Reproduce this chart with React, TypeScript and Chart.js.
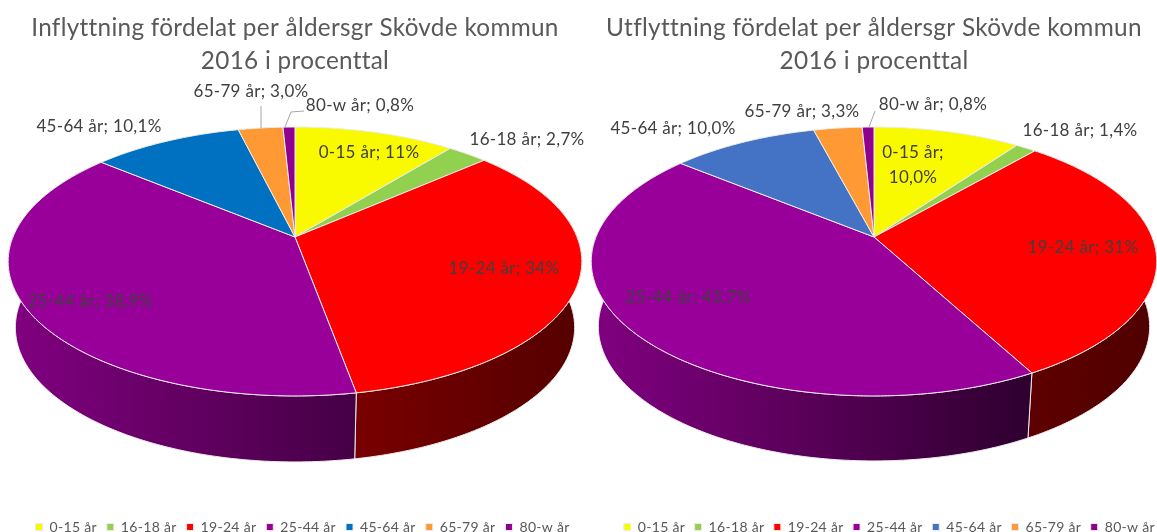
import React, { useEffect, useRef } from "react";
import { Chart, registerables } from "chart.js";

Chart.register(...registerables);

const categories = ["0-15 år", "16-18 år", "19-24 år", "25-44 år", "45-64 år", "65-79 år", "80-w år"];

const inValues = [10.8, 2.7, 33.6, 38.9, 10.1, 3.0, 0.8];
const inTexts = ["11%", "2,7%", "34%", "38,9%", "10,1%", "3,0%", "0,8%"];
const outValues = [10.0, 1.4, 30.6, 43.7, 10.0, 3.3, 0.8];
const outTexts = ["10,0%", "1,4%", "31%", "43,7%", "10,0%", "3,3%", "0,8%"];

const inColors = ["#F9F900", "#92D050", "#FF0000", "#990099", "#0070C0", "#FF9933", "#8F008F"];
const outColors = ["#F9F900", "#92D050", "#FF0000", "#990099", "#4472C4", "#FF9933", "#8F008F"];

const inTitle = ["Inflyttning fördelat per åldersgr Skövde kommun", "2016 i procenttal"];
const outTitle = ["Utflyttning fördelat per åldersgr Skövde kommun", "2016 i procenttal"];

const FONT = "Lato";

type Cfg = {
  width: number; left: number; cy: number; A: number; B: number; p: number; depth: number; inset: number;
  legendShift: number; legendPadding: number; titleSize: number; titleTop: number;
  shades: Record<number, [number, number]>;
  labelPos: [number, number][];
  twoLine: number[];
  leaders: [number, number][][];
};

const inCfg: Cfg = {
  width: 590, left: 0, cy: 237, A: 282, B: 130, p: 0.182, depth: 66, inset: 0.975, legendShift: -0.5, legendPadding: 10,
  titleSize: 24.3, titleTop: 12,
  shades: { 2: [0.47, 0.33], 3: [0.84, 0.45] },
  labelPos: [[369, 153], [527, 140], [504, 269], [90, 302], [99, 127], [251, 92], [360, 106]],
  twoLine: [],
  leaders: [[[261, 106], [261, 128]], [[285, 127], [291, 112], [304, 111]]],
};
const outCfg: Cfg = {
  width: 600, left: 574, cy: 237, A: 278, B: 130, p: 0.182, depth: 65, inset: 0.975, legendShift: 7.25, legendPadding: 9.5,
  titleSize: 24.4, titleTop: 12,
  shades: { 2: [0.37, 0.31], 3: [0.84, 0.3] },
  labelPos: [[913, 153], [1080, 131], [1083, 248], [688, 298], [673, 129], [802, 112], [933, 105]],
  twoLine: [0],
  leaders: [[[869, 127], [875, 111]]],
};

function shade(hex: string, f: number) {
  const n = parseInt(hex.slice(1), 16);
  const r = Math.round(((n >> 16) & 255) * f);
  const g = Math.round(((n >> 8) & 255) * f);
  const b = Math.round((n & 255) * f);
  return `rgb(${r},${g},${b})`;
}

function makePlugin(cfg: Cfg, texts: string[]) {
  return {
    id: "pie3d",
    afterLayout(chart: any) {
      const lg = chart.legend;
      lg.left += cfg.legendShift;
      lg.right += cfg.legendShift;
      lg.top += 12;
      lg.bottom += 12;
    },
    beforeDraw(chart: any) {
      chart.ctx.letterSpacing = "0.3px";
    },
    beforeDatasetDraw() {
      return false;
    },
    afterDatasetsDraw(chart: any) {
      const ctx: CanvasRenderingContext2D = chart.ctx;
      const arcs = chart.getDatasetMeta(0).data as any[];
      const cx = arcs[0].x;
      const pt = (a: number): [number, number] => {
        const u = Math.cos(a);
        const v = Math.sin(a);
        const w = 1 - cfg.p * v;
        return [cx + (cfg.A * u) / w, cfg.cy + (cfg.B * v) / w];
      };
      const low = (q: [number, number]): [number, number] => [cx + cfg.inset * (q[0] - cx), q[1] + cfg.depth];
      const rim = (el: any) => {
        const pts: [number, number][] = [];
        const n = Math.max(2, Math.ceil((el.endAngle - el.startAngle) / 0.01));
        for (let i = 0; i <= n; i++) pts.push(pt(el.startAngle + ((el.endAngle - el.startAngle) * i) / n));
        return pts;
      };

      ctx.save();
      ctx.lineJoin = "round";
      // side wall
      arcs.forEach((el, i) => {
        const pts = rim(el);
        const front = pts.filter((_, k) => {
          const a = el.startAngle + ((el.endAngle - el.startAngle) * k) / (pts.length - 1);
          return Math.sin(a) > -0.1;
        });
        if (!front.length) return;
        const xs = front.map((q) => q[0]);
        const x0 = Math.min(...xs);
        const x1 = Math.max(...xs);
        const s = cfg.shades[i] || [0.6, 0.6];
        const g = ctx.createLinearGradient(x0, 0, Math.max(x1, x0 + 1), 0);
        const col = el.options.backgroundColor as string;
        g.addColorStop(0, shade(col, s[0]));
        g.addColorStop(1, shade(col, s[1]));
        ctx.beginPath();
        pts.forEach((q, k) => (k ? ctx.lineTo(q[0], q[1]) : ctx.moveTo(q[0], q[1])));
        for (let k = pts.length - 1; k >= 0; k--) {
          const q = low(pts[k]);
          ctx.lineTo(q[0], q[1]);
        }
        ctx.closePath();
        ctx.fillStyle = g;
        ctx.fill();
        ctx.strokeStyle = el.options.borderColor;
        ctx.lineWidth = el.options.borderWidth;
        ctx.stroke();
      });
      // top face
      arcs.forEach((el) => {
        const pts = rim(el);
        ctx.beginPath();
        ctx.moveTo(cx, cfg.cy);
        pts.forEach((q) => ctx.lineTo(q[0], q[1]));
        ctx.closePath();
        ctx.fillStyle = el.options.backgroundColor;
        ctx.fill();
        ctx.strokeStyle = el.options.borderColor;
        ctx.lineWidth = el.options.borderWidth;
        ctx.stroke();
      });
      // leader lines
      ctx.strokeStyle = "#a6a6a6";
      ctx.lineWidth = 1;
      cfg.leaders.forEach((line) => {
        ctx.beginPath();
        line.forEach((q, k) => (k ? ctx.lineTo(q[0] - cfg.left, q[1]) : ctx.moveTo(q[0] - cfg.left, q[1])));
        ctx.stroke();
      });
      // data labels
      ctx.font = `17px ${FONT}`;
      ctx.fillStyle = "#404040";
      ctx.textAlign = "center";
      ctx.textBaseline = "middle";
      categories.forEach((c, i) => {
        const [x, y] = cfg.labelPos[i];
        if (cfg.twoLine.includes(i)) {
          ctx.fillText(`${c};`, x - cfg.left, y);
          ctx.fillText(texts[i], x - cfg.left, y + 25);
        } else {
          ctx.fillText(`${c}; ${texts[i]}`, x - cfg.left, y);
        }
      });
      ctx.restore();
    },
  };
}

function Pie({ cfg, values, texts, colors, title }: { cfg: Cfg; values: number[]; texts: string[]; colors: string[]; title: string[] }) {
  const ref = useRef<HTMLCanvasElement>(null);
  useEffect(() => {
    const chart = new Chart(ref.current as HTMLCanvasElement, {
      type: "pie",
      data: {
        labels: categories,
        datasets: [{ data: values, backgroundColor: colors, borderColor: "#ececec", borderWidth: 1 }],
      },
      options: {
        animation: false,
        responsive: false,
        layout: { padding: 0 },
        plugins: {
          tooltip: { enabled: false },
          title: {
            display: true,
            text: title,
            color: "#595959",
            font: { family: FONT, size: cfg.titleSize, weight: "normal", lineHeight: 1.34 },
            padding: { top: cfg.titleTop, bottom: 10 },
          },
          legend: {
            position: "bottom",
            labels: {
              boxWidth: 7,
              boxHeight: 7,
              padding: cfg.legendPadding,
              color: "#595959",
              font: { family: FONT, size: 14 },
            },
          },
        },
      },
      plugins: [makePlugin(cfg, texts)],
    } as any);
    return () => chart.destroy();
  }, []);
  return (
    <canvas
      ref={ref}
      width={cfg.width}
      height={532}
      style={{ position: "absolute", left: cfg.left, top: 0, width: cfg.width, height: 532, filter: "blur(0.4px)" }}
    />
  );
}

export default function App() {
  useEffect(() => {
    document.body.style.margin = "0";
    document.body.style.overflow = "hidden";
  }, []);
  return (
    <div style={{ position: "relative", width: 1157, height: 532, overflow: "hidden", background: "#fff" }}>
      <Pie cfg={inCfg} values={inValues} texts={inTexts} colors={inColors} title={inTitle} />
      <Pie cfg={outCfg} values={outValues} texts={outTexts} colors={outColors} title={outTitle} />
    </div>
  );
}
